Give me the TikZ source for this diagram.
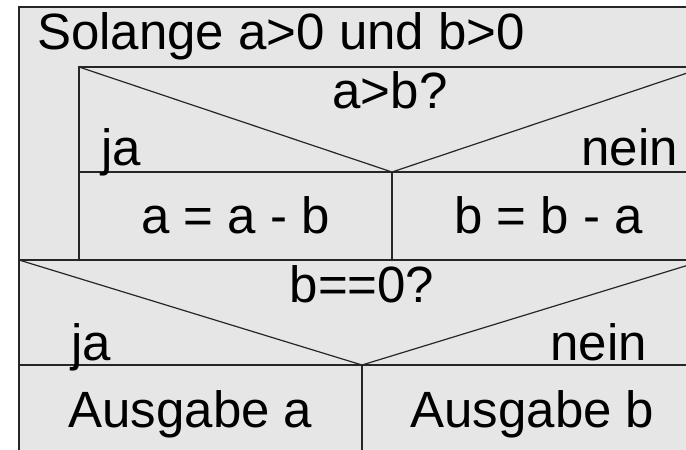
\documentclass[tikz,border=0pt]{standalone}
\usepackage{fontspec}
\setmainfont{Liberation Sans}
\usepackage{xcolor}
\usetikzlibrary{positioning}

\definecolor{nsfill}{HTML}{E6E6E6}
\tikzset{
  nsline/.style={draw=black!85, line width=1.2pt},
  nstext/.style={inner sep=0pt, font=\fontsize{51}{61}\selectfont},
}

\begin{document}
\begin{tikzpicture}[x=1pt, y=-1pt]
\useasboundingbox (0,0) rectangle (686,450);
\clip (0,0) rectangle (686,450);
% outer block (cut off on the right and at the bottom)
\fill[nsfill] (19,7) rectangle (705,470);
\draw[nsline] (19,470) -- (19,7) -- (705,7) -- (705,470);
% loop body
\draw[nsline] (79,260) -- (79,67) -- (705,67);
% if a>b
\draw[nsline] (79,67) -- (392,172) -- (705,67);
\draw[nsline] (79,172) -- (705,172);
\draw[nsline] (392,172) -- (392,260);
\draw[nsline] (19,260) -- (705,260);
% if b==0
\draw[nsline] (19,260) -- (362,365) -- (705,260);
\draw[nsline] (19,365) -- (705,365);
\draw[nsline] (362,365) -- (362,470);
% texts
\node[nstext, anchor=base west] (loop) at (37,49) {Solange a>0 und b>0};
\node[nstext, anchor=base] (cond1) at (390,108) {a>b?};
\node[nstext, anchor=base west] (yes1) at (101,165) {ja};
\node[nstext, anchor=base east] (no1) at (678,165) {nein};
\node[nstext, anchor=base] (sub1) at (235.5,233) {a = a - b};
\node[nstext, anchor=base] (sub2) at (548.5,233) {b = b - a};
\node[nstext, anchor=base] (cond2) at (362,302) {b==0?};
\node[nstext, anchor=base west] (yes2) at (71,360) {ja};
\node[nstext, anchor=base east] (no2) at (647,360) {nein};
\node[nstext, anchor=base] (out1) at (190.5,427) {Ausgabe a};
\node[nstext, anchor=base] (out2) at (532.5,427) {Ausgabe b};
\end{tikzpicture}
\end{document}
